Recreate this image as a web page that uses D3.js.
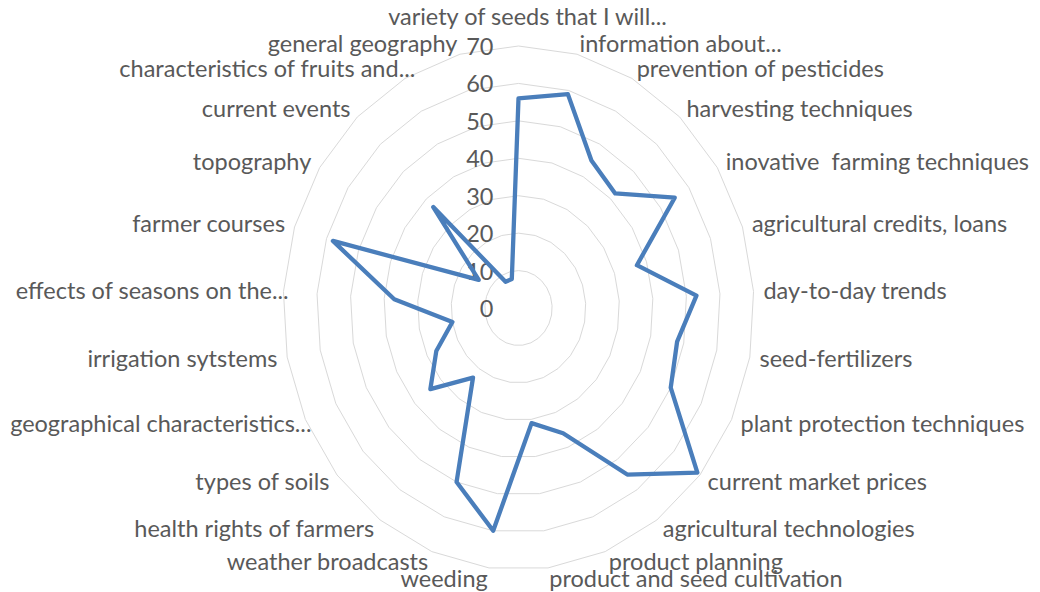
<!DOCTYPE html>
<html>
<head>
<meta charset="utf-8">
<script src="https://cdn.jsdelivr.net/npm/d3@7"></script>
<style>
  html, body { margin: 0; background: #fff; }
  svg { display: block; }
  text { white-space: pre; }
</style>
</head>
<body>
<svg id="chart" width="1040" height="592"></svg>
<script>
/* radar chart — survey topics, one series */
var categories = [
  'variety of seeds that I will...', 'information about...', 'prevention of pesticides',
  'harvesting techniques', 'inovative  farming techniques', 'agricultural credits, loans',
  'day-to-day trends', 'seed-fertilizers', 'plant protection techniques', 'current market prices',
  'agricultural technologies', 'product planning', 'product and seed cultivation', 'weeding',
  'weather broadcasts', 'health rights of farmers', 'types of soils', 'geographical characteristics...',
  'irrigation sytstems', 'effects of seasons on the...', 'farmer courses', 'topography',
  'current events', 'characteristics of fruits and...', 'general geography'
];
var values = [56, 59, 45, 42, 55, 37, 53, 48, 50, 69, 55, 36, 31, 60, 50, 23, 34, 27, 20, 37, 58, 14, 37, 8, 8];
var ticks = [0, 10, 20, 30, 40, 50, 60, 70];

var CX = 518.5, CY = 308, FONT = 'Lato, sans-serif', FS = 23.5;
var svg = d3.select('#chart');
// the picture is a bit squeezed sideways, so x and y radii differ
var rx = d3.scaleLinear().domain([0, 70]).range([0, 235.5]);
var ry = d3.scaleLinear().domain([0, 70]).range([0, 262]);
var angle = d3.scaleLinear().domain([0, categories.length]).range([0, 2 * Math.PI]);
function px(i, v) { return CX + rx(v) * Math.sin(angle(i)); }
function py(i, v) { return CY - ry(v) * Math.cos(angle(i)); }
var idx = d3.range(categories.length);

var ring = d3.line().x(function (d) { return d[0]; }).y(function (d) { return d[1]; }).curve(d3.curveLinearClosed);

svg.append('g').selectAll('path').data(ticks.filter(function (t) { return t > 0; })).enter().append('path')
  .attr('d', function (t) { return ring(idx.map(function (i) { return [px(i, t), py(i, t)]; })); })
  .attr('fill', 'none').attr('stroke', '#d9d9d9').attr('stroke-width', 1);

// value axis numbers
svg.append('g').selectAll('text').data(ticks).enter().append('text')
  .attr('x', CX - 25).attr('y', function (t) { return CY - ry(t); }).attr('dy', '0.38em')
  .attr('text-anchor', 'end').attr('font-family', FONT).attr('font-size', FS).attr('fill', '#595959')
  .text(function (t) { return t; });

// series
svg.append('path')
  .attr('d', ring(idx.map(function (i) { return [px(i, values[i]), py(i, values[i])]; })))
  .attr('fill', 'none').attr('stroke', '#4a7ebb').attr('stroke-width', 4.3).attr('stroke-linejoin', 'round');

// category labels (excel pushes the cut "..." ones a bit to the right)
var LR = 1.042;
function anchor(i) { var s = Math.sin(angle(i)); return Math.abs(s) < 0.01 ? 'middle' : (s > 0 ? 'start' : 'end'); }
function shift(i) {
  if (!/\.\.\.$/.test(categories[i])) return 0;
  var a = anchor(i);
  return a === 'end' ? 15 : (a === 'middle' ? 9 : 0);
}
svg.append('g').selectAll('text').data(idx).enter().append('text')
  .attr('x', function (i) { return CX + rx(70) * LR * Math.sin(angle(i)) + shift(i); })
  .attr('y', function (i) { return CY - ry(70) * LR * Math.cos(angle(i)); })
  .attr('dy', function (i) { return i === 0 ? '-0.42em' : '0.35em'; })
  .attr('text-anchor', anchor)
  .attr('font-family', FONT).attr('font-size', FS).attr('fill', '#595959')
  .text(function (i) { return categories[i]; });
</script>
</body>
</html>
